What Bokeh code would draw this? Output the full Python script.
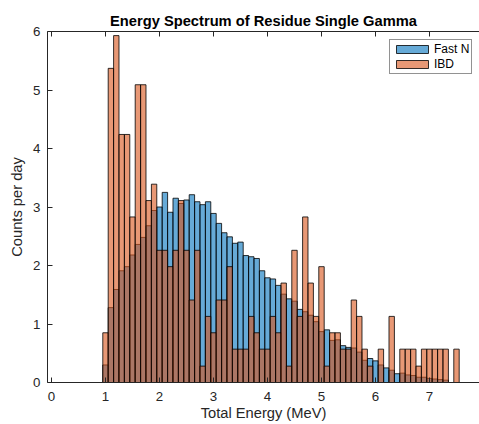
from bokeh.plotting import figure
from bokeh.models import (ColumnDataSource, Range1d, FixedTicker, LinearAxis, Legend,
                          LegendItem, CustomLabelingPolicy)
from bokeh.embed import file_html
from bokeh.resources import INLINE

# Bin centres (MeV), bin width 0.1 MeV
energy = [1.0, 1.1, 1.2, 1.3, 1.4, 1.5, 1.6, 1.7, 1.8, 1.9,
          2.0, 2.1, 2.2, 2.3, 2.4, 2.5, 2.6, 2.7, 2.8, 2.9,
          3.0, 3.1, 3.2, 3.3, 3.4, 3.5, 3.6, 3.7, 3.8, 3.9,
          4.0, 4.1, 4.2, 4.3, 4.4, 4.5, 4.6, 4.7, 4.8, 4.9,
          5.0, 5.1, 5.2, 5.3, 5.4, 5.5, 5.6, 5.7, 5.8, 5.9,
          6.0, 6.1, 6.2, 6.3, 6.4, 6.5, 6.6, 6.7, 6.8, 6.9,
          7.0, 7.1, 7.2, 7.3, 7.4, 7.5]

fast_n = [0.30, 1.28, 1.59, 1.91, 1.98, 2.18, 2.36, 2.48, 2.68, 2.94,
          3.00, 3.25, 2.91, 3.15, 3.06, 3.12, 3.21, 3.09, 3.04, 3.09,
          2.89, 2.72, 2.56, 2.49, 2.38, 2.40, 2.17, 2.15, 2.12, 1.91,
          1.79, 1.77, 1.66, 1.51, 1.43, 1.39, 1.25, 1.21, 1.15, 1.04,
          0.87, 0.90, 0.72, 0.73, 0.63, 0.60, 0.59, 0.52, 0.38, 0.41,
          0.37, 0.30, 0.25, 0.21, 0.15, 0.16, 0.13, 0.12, 0.09, 0.09,
          0.07, 0.06, 0.05, 0.04, 0.00, 0.00]

ibd = [0.85, 5.37, 5.93, 4.24, 4.24, 2.83, 5.09, 5.09, 3.11, 3.39,
       2.26, 2.26, 1.98, 2.26, 3.11, 2.26, 1.41, 2.26, 0.28, 1.13,
       0.85, 1.41, 1.41, 1.98, 0.57, 0.57, 0.57, 1.13, 0.85, 0.57,
       0.57, 1.13, 0.85, 1.70, 0.28, 2.26, 1.13, 2.83, 1.70, 1.13,
       1.98, 0.28, 0.85, 0.85, 0.57, 0.57, 1.41, 1.13, 0.57, 0.28,
       0.00, 0.57, 0.00, 1.13, 0.00, 0.57, 0.57, 0.57, 0.28, 0.57,
       0.57, 0.57, 0.57, 0.57, 0.00, 0.57]

x_ticks = [0, 1, 2, 3, 4, 5, 6, 7]
y_ticks = [0, 1, 2, 3, 4, 5, 6]
bin_width = 0.1

FONT = "Liberation Sans"
AXC = "#262626"


def nonzero(xs, ys):
    pairs = [(x, y) for x, y in zip(xs, ys) if y > 0]
    return ColumnDataSource(dict(x=[a for a, _ in pairs], top=[b for _, b in pairs]))


p = figure(width=479, height=424, output_backend="svg", toolbar_location=None,
           x_range=Range1d(-0.074, 7.926), y_range=Range1d(0, 6),
           min_border_left=47, min_border_right=0, min_border_top=31, min_border_bottom=42,
           title="Energy Spectrum of Residue Single Gamma")
p.outline_line_color = None
p.background_fill_color = "white"
p.border_fill_color = "white"
p.xgrid.visible = False
p.ygrid.visible = False

p.title.text_font = FONT
p.title.text_font_size = "14.7px"
p.title.text_font_style = "bold"
p.title.text_color = "black"
p.title.align = "center"
p.title.standoff = 5

r_fast = p.vbar(x="x", top="top", width=bin_width, source=nonzero(energy, fast_n),
                fill_color="#0072BD", fill_alpha=0.6, line_color="black", line_width=0.8)
r_ibd = p.vbar(x="x", top="top", width=bin_width, source=nonzero(energy, ibd),
               fill_color="#D95319", fill_alpha=0.6, line_color="black", line_width=0.8)

for ax, ticks in ((p.xaxis[0], x_ticks), (p.yaxis[0], y_ticks)):
    ax.ticker = FixedTicker(ticks=ticks)
    ax.major_tick_in = 5
    ax.major_tick_out = 0
    ax.minor_tick_line_color = None
    ax.axis_line_color = AXC
    ax.major_tick_line_color = AXC
    ax.major_label_text_font = FONT
    ax.major_label_text_font_size = "13.3px"
    ax.major_label_text_color = AXC
    ax.axis_label_text_font = FONT
    ax.axis_label_text_font_size = "14.7px"
    ax.axis_label_text_font_style = "normal"
    ax.axis_label_text_color = AXC

p.xaxis[0].axis_label = "Total Energy (MeV)"
p.xaxis[0].major_label_standoff = 9
p.xaxis[0].axis_label_standoff = 1
p.yaxis[0].axis_label = "Counts per day"
p.yaxis[0].major_label_standoff = 7
p.yaxis[0].axis_label_standoff = 5

# top box edge with inward ticks, no labels
no_labels = CustomLabelingPolicy(code="return new indices.constructor(indices.size)")
top_axis = LinearAxis(ticker=FixedTicker(ticks=x_ticks), major_label_text_font_size="0px",
                      major_label_policy=no_labels,
                      major_label_standoff=0, major_tick_in=5, major_tick_out=0,
                      minor_tick_line_color=None, axis_line_color=AXC,
                      major_tick_line_color=AXC)
p.add_layout(top_axis, "above")

legend = Legend(items=[LegendItem(label="Fast N", renderers=[r_fast]),
                       LegendItem(label="IBD", renderers=[r_ibd])],
                location=(342, 308), orientation="vertical",
                glyph_width=40, glyph_height=10, label_height=10, label_standoff=2,
                spacing=1, padding=2, margin=0,
                label_text_font=FONT, label_text_font_size="12px", label_text_color="black",
                border_line_color=AXC, border_line_width=1,
                background_fill_color="white", background_fill_alpha=1)
p.add_layout(legend, "center")

open("out.html", "w").write(file_html(p, INLINE))
